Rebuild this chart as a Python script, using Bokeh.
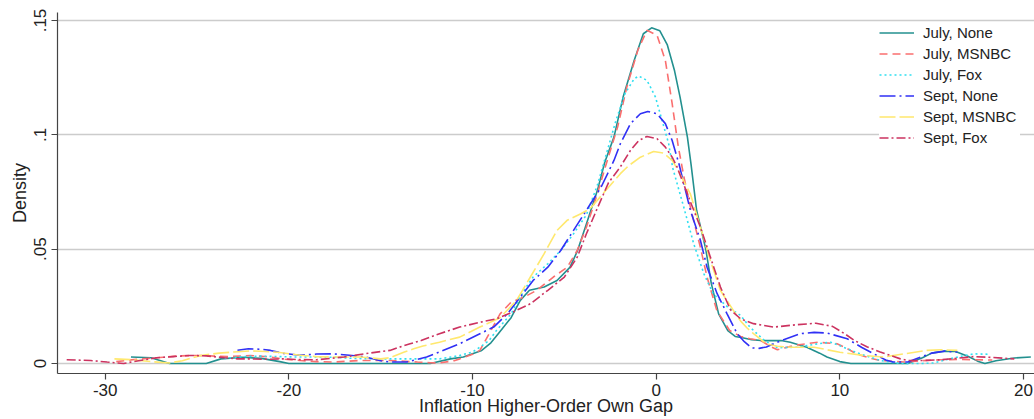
from bokeh.plotting import figure
from bokeh.models import Range1d, FixedTicker, Legend, LegendItem
from bokeh.embed import file_html
from bokeh.resources import INLINE

# ---- data ----
series_names = ["July, None", "July, MSNBC", "July, Fox", "Sept, None", "Sept, MSNBC", "Sept, Fox"]

july_none_x = [-28.6, -27.5, -26.5, -24.5, -23.7, -22.5, -21.5, -20.5, -20.0, -13.0, -12.3, -11.2, -10.5,
               -9.5, -9.0, -8.6, -7.9, -7.4, -6.9, -6.1, -5.4, -4.7, -4.3, -3.8, -3.2, -2.8, -2.3, -1.8,
               -1.2, -0.7, -0.25, 0.2, 0.6, 1.0, 1.3, 1.7, 1.9, 2.2, 2.7, 3.0, 3.4, 3.9, 4.3, 4.7, 5.2, 5.7,
               6.8, 7.3, 8.2, 8.9, 9.3, 10.0, 10.6, 13.7, 14.5, 15.0, 15.7, 16.3, 17.0, 17.5, 17.9, 18.5,
               19.5, 20.4]
july_none_y = [0.0028, 0.0025, 0.0, 0.0, 0.002, 0.0027, 0.0022, 0.0008, 0.0, 0.0, 0.0, 0.002, 0.0028,
               0.0057, 0.009, 0.013, 0.020, 0.0276, 0.032, 0.0334, 0.0363, 0.042, 0.049, 0.061, 0.0757,
               0.088, 0.099, 0.1165, 0.1325, 0.1442, 0.1468, 0.1455, 0.1395, 0.128, 0.1165, 0.099, 0.087,
               0.067, 0.05, 0.035, 0.0217, 0.0144, 0.0118, 0.0112, 0.0104, 0.0100, 0.0100, 0.0093, 0.0071,
               0.0045, 0.0028, 0.0008, 0.0, 0.0, 0.0025, 0.0045, 0.0054, 0.0052, 0.0030, 0.001, 0.0,
               0.0012, 0.0024, 0.0028]

july_msnbc_x = [-29.4, -28.3, -27.2, -26.0, -25.0, -24.0, -23.2, -22.1, -21.0, -20.2, -19.4, -18.5, -17.6,
                -16.1, -15.0, -14.5, -13.0, -12.3, -11.8, -11.0, -10.7, -10.0, -9.6, -9.0, -8.5, -7.9,
                -7.2, -6.5, -5.6, -4.85, -4.3, -3.8, -3.2, -2.75, -2.1, -1.6, -1.0, -0.5, 0.05, 0.5, 0.87,
                1.2, 1.5, 1.9, 2.4, 2.77, 3.3, 4.0, 4.6, 5.1, 5.7, 6.2, 6.6, 7.0, 7.5, 8.8, 9.85, 10.4,
                10.9, 11.6, 12.2, 13.5, 14.5, 15.5, 16.5, 17.5, 18.3]
july_msnbc_y = [0.0008, 0.0018, 0.0025, 0.0033, 0.0035, 0.0032, 0.003, 0.0035, 0.0028, 0.0018, 0.0013,
                0.0008, 0.0006, 0.0013, 0.0013, 0.0013, 0.0006, 0.0003, 0.0002, 0.0012, 0.002, 0.004,
                0.0057, 0.0144, 0.0217, 0.0268, 0.029, 0.032, 0.0378, 0.042, 0.0494, 0.0596, 0.0742,
                0.0865, 0.1034, 0.1209, 0.137, 0.1457, 0.1435, 0.1325, 0.1136, 0.095, 0.082, 0.067,
                0.051, 0.0378, 0.0232, 0.0144, 0.0118, 0.0108, 0.010, 0.0075, 0.006, 0.0068, 0.0079,
                0.0093, 0.0086, 0.0065, 0.0042, 0.0024, 0.0013, 0.0006, 0.0012, 0.0016, 0.0018, 0.0016,
                0.0015]

july_fox_x = [-23.5, -22.5, -21.5, -20.5, -19.5, -18.5, -17.5, -16.5, -15.5, -14.5, -13.0, -11.8, -11.0,
              -10.7, -10.0, -9.6, -9.1, -8.7, -7.9, -7.2, -6.7, -5.9, -5.2, -4.5, -3.8, -3.2, -2.7, -2.2,
              -1.7, -1.2, -0.95, -0.5, -0.04, 0.32, 0.68, 0.9, 1.5, 2.04, 2.6, 3.1, 3.9, 4.6, 5.1, 5.9,
              6.6, 7.7, 8.8, 9.5, 10.2, 11.1, 12.2, 13.3, 14.5, 15.1, 15.8, 16.5, 17.3, 18.2]
july_fox_y = [0.0022, 0.003, 0.0032, 0.003, 0.0028, 0.0028, 0.0027, 0.0022, 0.002, 0.002, 0.002, 0.002,
              0.003, 0.0035, 0.005, 0.0071, 0.010, 0.0144, 0.0217, 0.032, 0.0378, 0.0436, 0.0494,
              0.0567, 0.065, 0.078, 0.092, 0.106, 0.118, 0.1245, 0.1257, 0.1238, 0.1165, 0.1063, 0.0961,
              0.0855, 0.0684, 0.0524, 0.0392, 0.0305, 0.0246, 0.021, 0.0159, 0.010, 0.0069, 0.0071,
              0.0086, 0.0093, 0.0071, 0.0042, 0.0013, 0.0, 0.0, 0.0002, 0.0016, 0.003, 0.0042, 0.004]

sept_none_x = [-22.8, -22.2, -21.5, -21.0, -20.3, -19.4, -18.5, -17.6, -16.7, -15.8, -15.0, -14.5, -13.6,
               -12.5, -11.8, -10.7, -9.6, -8.85, -8.1, -7.4, -6.7, -5.9, -5.2, -4.5, -3.8, -3.0, -2.3,
               -1.95, -1.4, -0.86, -0.46, 0.05, 0.5, 0.87, 1.25, 1.86, 2.41, 2.77, 3.32, 3.86, 4.41, 4.8,
               5.2, 5.6, 6.0, 6.8, 7.85, 8.6, 9.3, 10.4, 11.2, 11.85, 12.5, 12.9, 13.7, 14.4, 15.0, 15.7,
               16.4]
sept_none_y = [0.0058, 0.0064, 0.0062, 0.0057, 0.0044, 0.0036, 0.0041, 0.0042, 0.0036, 0.0028, 0.0012,
               0.0006, 0.0006, 0.0028, 0.005, 0.0086, 0.013, 0.0159, 0.0217, 0.029, 0.0363, 0.0421,
               0.0494, 0.0582, 0.067, 0.0771, 0.0888, 0.0961, 0.1049, 0.1092, 0.1102, 0.1092, 0.1049,
               0.0975, 0.087, 0.067, 0.0538, 0.0421, 0.0305, 0.0217, 0.013, 0.0095, 0.0068, 0.0066,
               0.0072, 0.010, 0.013, 0.0136, 0.0133, 0.0108, 0.007, 0.0042, 0.0015, 0.0006, 0.0006,
               0.0028, 0.0045, 0.0054, 0.005]

sept_msnbc_x = [-29.5, -28.5, -27.5, -26.5, -25.8, -24.8, -23.8, -23.0, -22.1, -21.3, -20.6, -19.4, -18.5,
                -17.6, -16.1, -15.0, -14.5, -13.75, -13.2, -12.7, -11.8, -10.7, -9.6, -8.5, -7.6, -6.85,
                -6.1, -5.4, -4.85, -4.1, -3.6, -2.9, -1.95, -1.5, -0.86, -0.14, 0.41, 0.87, 1.14, 1.86,
                2.41, 2.95, 3.5, 4.2, 4.6, 4.95, 5.3, 6.0, 6.6, 7.3, 8.6, 9.3, 10.0, 11.3, 12.4, 13.5,
                14.0, 14.75, 15.5, 16.4]
sept_msnbc_y = [0.002, 0.0016, 0.0008, 0.0002, 0.0012, 0.0035, 0.0045, 0.005, 0.0055, 0.0052, 0.0049,
                0.0036, 0.003, 0.0028, 0.0028, 0.002, 0.0025, 0.0049, 0.0064, 0.0076, 0.0093, 0.0115,
                0.0159, 0.020, 0.0276, 0.0378, 0.048, 0.0582, 0.0626, 0.0655, 0.0677, 0.0742, 0.083,
                0.0865, 0.0902, 0.0927, 0.092, 0.0888, 0.0852, 0.0742, 0.0596, 0.045, 0.0319, 0.0232,
                0.0185, 0.0155, 0.013, 0.0086, 0.0075, 0.0071, 0.0071, 0.006, 0.0049, 0.0035, 0.0028,
                0.0042, 0.0048, 0.0057, 0.006, 0.0057]

sept_fox_x = [-32.1, -30.8, -29.9, -29.0, -28.1, -27.2, -26.3, -25.4, -24.5, -23.5, -22.8, -22.1, -21.4,
              -20.3, -19.5, -18.5, -17.75, -17.0, -15.9, -15.0, -14.5, -14.1, -13.4, -12.8, -12.3, -11.8,
              -10.7, -9.6, -8.7, -7.8, -6.85, -5.9, -5.0, -4.3, -3.8, -3.2, -2.6, -1.95, -1.4, -0.95,
              -0.5, 0.05, 0.5, 0.87, 1.14, 1.8, 2.41, 2.95, 3.5, 4.04, 4.6, 5.3, 6.4, 7.6, 8.7, 9.6,
              10.3, 10.8, 11.5, 12.2, 13.3, 13.7, 14.5, 15.5, 16.5, 17.3, 18.3, 19.5]
sept_fox_y = [0.0016, 0.0013, 0.0006, 0.0, 0.0013, 0.0025, 0.003, 0.0035, 0.0033, 0.0025, 0.002, 0.002,
              0.0018, 0.002, 0.0017, 0.0016, 0.0022, 0.0028, 0.0042, 0.0052, 0.0057, 0.0068, 0.0086,
              0.0100, 0.0115, 0.013, 0.0159, 0.018, 0.0195, 0.0225, 0.0261, 0.032, 0.0378, 0.0465,
              0.0567, 0.068, 0.079, 0.086, 0.0932, 0.0975, 0.0993, 0.0983, 0.0946, 0.0902, 0.0859,
              0.072, 0.0596, 0.0465, 0.0334, 0.0235, 0.0195, 0.0174, 0.0159, 0.0169, 0.0176, 0.0162,
              0.0128, 0.010, 0.0072, 0.005, 0.002, 0.0013, 0.0013, 0.0016, 0.0024, 0.003, 0.0026, 0.002]

x_ticks = [-30, -20, -10, 0, 10, 20]
x_tick_labels = ["-30", "-20", "-10", "0", "10", "20"]
y_ticks = [0, 0.05, 0.1, 0.15]
y_tick_labels = ["0", ".05", ".1", ".15"]

# ---- styles ----
styles = [
    dict(color="#23908f", dash="solid"),
    dict(color="#fa6f6f", dash="8 5"),
    dict(color="#30dff0", dash="2 3"),
    dict(color="#3030f5", dash="16 4 2 4"),
    dict(color="#ffe86e", dash="16 4"),
    dict(color="#cc3360", dash="9 3 2 3"),
]

FONT = "Liberation Sans"

p = figure(width=1034, height=419, output_backend="svg", toolbar_location=None,
           x_range=Range1d(-32.6, 20.6), y_range=Range1d(-0.0044, 0.1535),
           min_border_left=57, min_border_right=0, min_border_top=12, min_border_bottom=46)

p.outline_line_color = None
p.background_fill_color = "white"
p.border_fill_color = "white"
p.xgrid.visible = False
p.ygrid.grid_line_color = "#cccccc"
p.ygrid.grid_line_width = 1.5

p.xaxis.ticker = FixedTicker(ticks=x_ticks)
p.xaxis.major_label_overrides = {t: l for t, l in zip(x_ticks, x_tick_labels)}
p.yaxis.ticker = FixedTicker(ticks=y_ticks)
p.yaxis.major_label_overrides = {t: l for t, l in zip(y_ticks, y_tick_labels)}
p.yaxis.major_label_orientation = "vertical"

for ax in (p.xaxis[0], p.yaxis[0]):
    ax.axis_line_color = "#444444"
    ax.axis_line_width = 1.2
    ax.major_tick_line_color = "#444444"
    ax.major_tick_line_width = 1.2
    ax.major_tick_out = 6
    ax.major_tick_in = 0
    ax.minor_tick_line_color = None
    ax.major_label_text_font = FONT
    ax.major_label_text_font_size = "17px"
    ax.major_label_text_color = "#222222"
    ax.axis_label_text_font = FONT
    ax.axis_label_text_font_size = "18px"
    ax.axis_label_text_font_style = "normal"
    ax.axis_label_text_color = "#222222"

p.yaxis.major_label_standoff = 5
p.yaxis.axis_label_standoff = 2
p.xaxis.major_label_standoff = 4
p.xaxis.axis_label_standoff = -3

p.xaxis.axis_label = "Inflation Higher-Order Own Gap"
p.yaxis.axis_label = "Density"

data = [(july_none_x, july_none_y), (july_msnbc_x, july_msnbc_y), (july_fox_x, july_fox_y),
        (sept_none_x, sept_none_y), (sept_msnbc_x, sept_msnbc_y), (sept_fox_x, sept_fox_y)]

items = []
for name, (xs, ys), st in zip(series_names, data, styles):
    r = p.line(xs, ys, line_color=st["color"], line_width=1.6, line_dash=st["dash"])
    items.append(LegendItem(label=name, renderers=[r]))

legend = Legend(items=items, location=(822, 225))
legend.label_text_font = FONT
legend.label_text_font_size = "15px"
legend.label_text_color = "#222222"
legend.glyph_width = 35
legend.glyph_height = 21
legend.label_height = 21
legend.label_width = 97
legend.spacing = 0
legend.padding = 7
legend.margin = 0
legend.label_standoff = 9
legend.border_line_color = None
legend.background_fill_color = "white"
legend.background_fill_alpha = 1.0
p.add_layout(legend)

open("out.html", "w").write(file_html(p, INLINE))
